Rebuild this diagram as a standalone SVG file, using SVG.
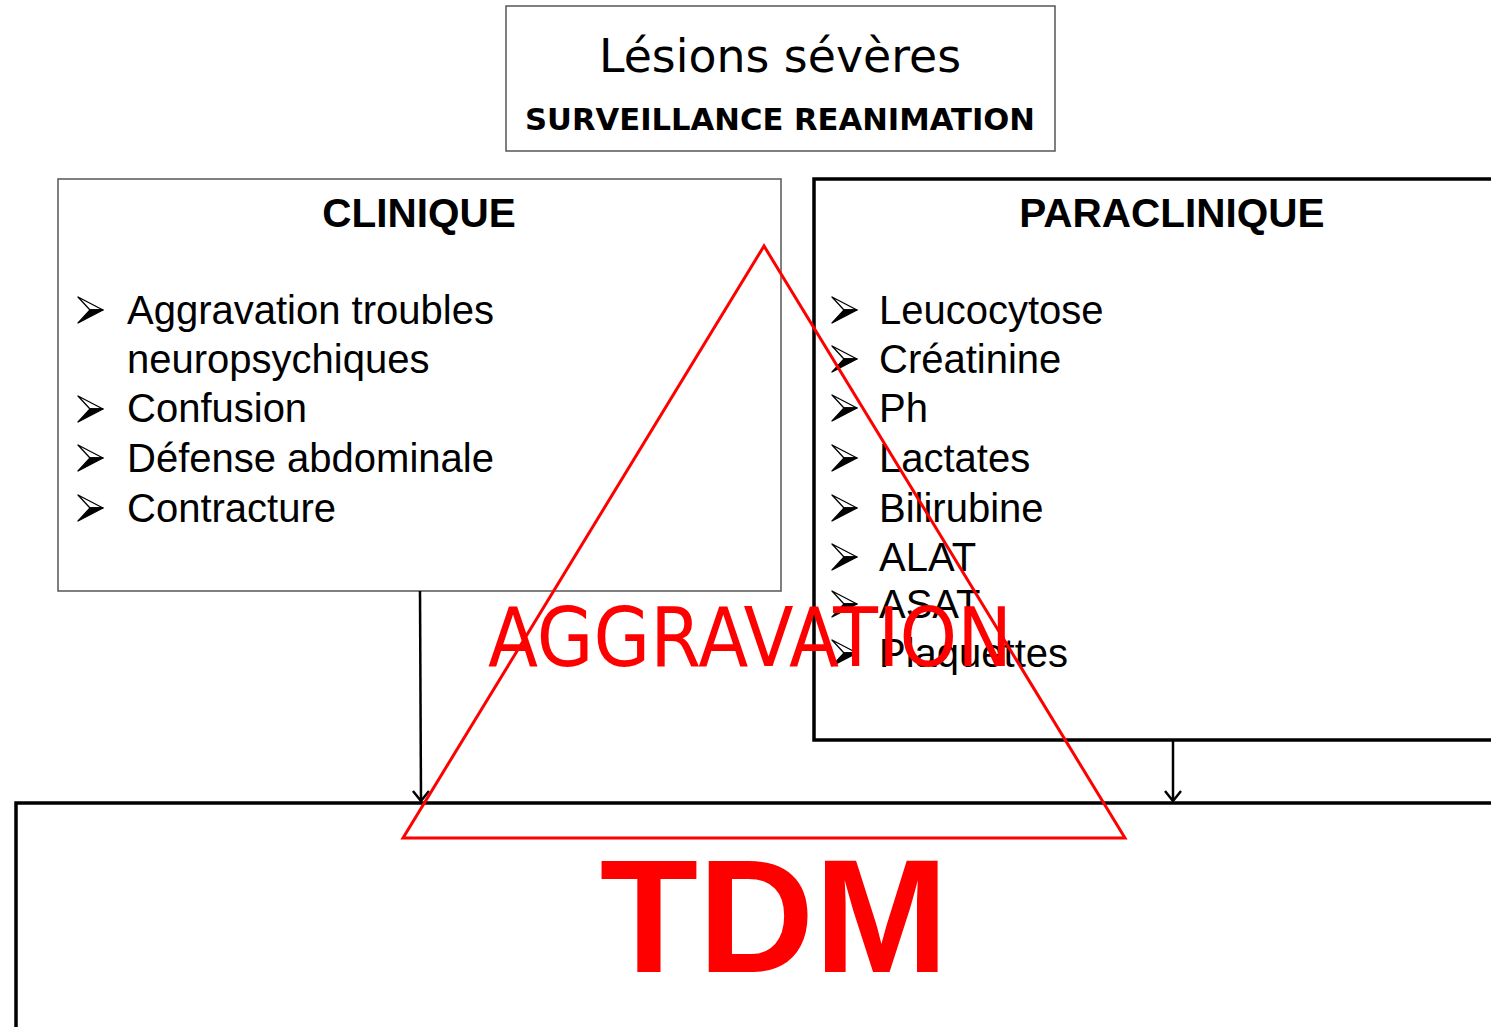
<svg xmlns="http://www.w3.org/2000/svg" width="1491" height="1027" viewBox="0 0 1491 1027">
<style>
.box{fill:#fff;stroke:#555;stroke-width:1.5}
.bbox{fill:#fff;stroke:#000;stroke-width:3.5}
.title{font-family:"Liberation Sans",Arial,sans-serif;font-weight:bold;font-size:40.5px;fill:#000;text-anchor:middle}
.item{font-family:"Liberation Sans",Arial,sans-serif;font-size:40px;fill:#000}
.conn{stroke:#000;stroke-width:2.5;fill:none}
</style>
<defs>
<g id="bul">
<path d="M0,0 L25,13 L12,13 Z" fill="#fff" stroke="#000" stroke-width="1.3" stroke-linejoin="round"/>
<path d="M12,13 L25,13 L0,26 Z" fill="#000" stroke="#000" stroke-width="1.3" stroke-linejoin="round"/>
</g>
<marker id="arr" markerWidth="20" markerHeight="20" refX="16" refY="10" orient="auto" markerUnits="userSpaceOnUse" viewBox="0 0 20 20">
<path d="M6,2 L16,10 L6,18" fill="none" stroke="#000" stroke-width="2.5"/>
</marker>
</defs>
<rect width="1491" height="1027" fill="#fff"/>

<g id="top">
<rect class="box" x="506" y="6" width="549" height="145"/>
<text x="780" y="72" font-family="'DejaVu Sans',sans-serif" font-size="46" text-anchor="middle" textLength="362" lengthAdjust="spacingAndGlyphs">Lésions sévères</text>
<text x="780" y="130" font-family="'DejaVu Sans',sans-serif" font-weight="bold" font-size="30" text-anchor="middle" textLength="510" lengthAdjust="spacingAndGlyphs">SURVEILLANCE REANIMATION</text>
</g>

<g id="clinique">
<rect class="box" x="58" y="179" width="723" height="412"/>
<text class="title" x="419" y="227">CLINIQUE</text>
<use href="#bul" x="78" y="297"/>
<text class="item" x="127" y="324">Aggravation troubles</text>
<text class="item" x="127" y="373">neuropsychiques</text>
<use href="#bul" x="78" y="396"/>
<text class="item" x="127" y="422">Confusion</text>
<use href="#bul" x="78" y="445"/>
<text class="item" x="127" y="472">Défense abdominale</text>
<use href="#bul" x="78" y="495"/>
<text class="item" x="127" y="522">Contracture</text>
</g>

<g id="paraclinique">
<rect class="bbox" x="814" y="179" width="690" height="561"/>
<text class="title" x="1172" y="227">PARACLINIQUE</text>
<use href="#bul" x="832" y="297"/>
<text class="item" x="879" y="324">Leucocytose</text>
<use href="#bul" x="832" y="346"/>
<text class="item" x="879" y="373">Créatinine</text>
<use href="#bul" x="832" y="395"/>
<text class="item" x="879" y="422">Ph</text>
<use href="#bul" x="832" y="445"/>
<text class="item" x="879" y="472">Lactates</text>
<use href="#bul" x="832" y="495"/>
<text class="item" x="879" y="522">Bilirubine</text>
<use href="#bul" x="832" y="544"/>
<text class="item" x="879" y="571">ALAT</text>
<use href="#bul" x="832" y="591"/>
<text class="item" x="879" y="618">ASAT</text>
<use href="#bul" x="832" y="640"/>
<text class="item" x="879" y="667">Plaquettes</text>
</g>

<g id="tdm">
<rect class="bbox" x="16" y="803" width="1490" height="240"/>
<text x="774" y="972" font-family="'Liberation Sans',Arial,sans-serif" font-weight="bold" font-size="161" fill="#f00" text-anchor="middle">TDM</text>
</g>

<g id="connectors">
<line class="conn" x1="420" y1="591" x2="421" y2="801" marker-end="url(#arr)"/>
<line class="conn" x1="1173" y1="741" x2="1173" y2="801" marker-end="url(#arr)"/>
</g>

<g id="aggravation">
<polygon points="764,246 403,838 1125,838" fill="none" stroke="#f00" stroke-width="3"/>
<text x="750" y="666" font-family="'DejaVu Sans',sans-serif" font-size="82" fill="#f00" text-anchor="middle" textLength="524" lengthAdjust="spacingAndGlyphs">AGGRAVATION</text>
</g>
</svg>
